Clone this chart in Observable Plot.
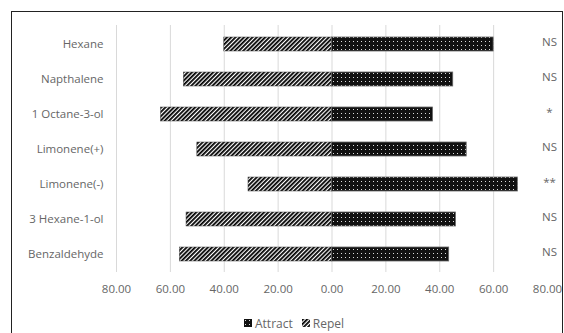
<!DOCTYPE html>
<html>
<head>
<meta charset="utf-8">
<script src="https://cdn.jsdelivr.net/npm/d3@7"></script>
<script src="https://cdn.jsdelivr.net/npm/@observablehq/plot@0.6"></script>
<style>
  html, body { margin: 0; padding: 0; background: #fff; overflow: hidden; }
  #wrap { position: relative; width: 564px; height: 333px; overflow: hidden; }
  #frame { position: absolute; left: 11px; top: 11px; width: 552px; height: 400px; border: 1.5px solid #222; box-sizing: border-box; pointer-events: none; }
  #legend { position: absolute; top: 314px; left: 244px; white-space: nowrap; font: 12px "Open Sans", "Noto Sans", sans-serif; color: #666; }
  #legend span { margin-right: 9px; display: inline-flex; align-items: center; }
  #legend svg { margin-right: 3px; }
</style>
</head>
<body>
<div id="wrap">
  <div id="chart"></div>
  <div id="legend"></div>
  <div id="frame"></div>
</div>
<script>
const categories = ["Hexane", "Napthalene", "1 Octane-3-ol", "Limonene(+)", "Limonene(-)", "3 Hexane-1-ol", "Benzaldehyde"];
const attract = [60, 45, 37.5, 50, 69, 46, 43.5];
const repel = [40, 55, 63.5, 50, 31, 54, 56.5];
const significance = ["NS", "NS", "*", "NS", "**", "NS", "NS"];
const xTicks = [-80, -60, -40, -20, 0, 20, 40, 60, 80];
const seriesNames = ["Attract", "Repel"];

const rows = categories.map((c, i) => ({cat: c, attract: attract[i], repel: repel[i], sig: significance[i]}));

const plot = Plot.plot({
  width: 564,
  height: 333,
  marginLeft: 116,
  marginRight: 17,
  marginTop: 25,
  marginBottom: 61,
  style: {fontFamily: "'Open Sans', 'Noto Sans', sans-serif", fontSize: "11.5px", color: "#666", background: "transparent"},
  x: {domain: [-80, 80], ticks: xTicks, tickFormat: d => Math.abs(d).toFixed(2), tickSize: 0, tickPadding: 12, label: null},
  y: {domain: categories, paddingInner: 0.6, paddingOuter: 0.3, tickSize: 0, tickPadding: 13, label: null},
  marks: [
    Plot.ruleX(xTicks.filter(d => d !== 80), {stroke: "#d9d9d9", strokeWidth: 1}),
    Plot.barX(rows, {y: "cat", x1: d => -d.repel, x2: 0, fill: "url(#pat-repel)", stroke: "#444", strokeWidth: 0.5}),
    Plot.barX(rows, {y: "cat", x1: 0, x2: "attract", fill: "url(#pat-attract)", stroke: "#666", strokeWidth: 0.8}),
    Plot.text(rows, {y: "cat", x: () => 80, text: "sig", fill: "#666", fontSize: 11.5, dx: 2, dy: -2})
  ]
});
document.getElementById("chart").appendChild(plot);

const defsSvg = d3.select("body").append("svg").attr("width", 0).attr("height", 0).style("position", "absolute");
const defs = defsSvg.append("defs");
const pa = defs.append("pattern").attr("id", "pat-attract").attr("patternUnits", "userSpaceOnUse").attr("width", 4).attr("height", 4);
pa.append("rect").attr("width", 4).attr("height", 4).attr("fill", "#111");
pa.append("rect").attr("x", 1).attr("y", 1).attr("width", 1).attr("height", 1).attr("fill", "#dcdcdc");
const pr = defs.append("pattern").attr("id", "pat-repel").attr("patternUnits", "userSpaceOnUse").attr("width", 3).attr("height", 3).attr("patternTransform", "rotate(45)");
pr.append("rect").attr("width", 3).attr("height", 3).attr("fill", "#fff");
pr.append("rect").attr("x", 0).attr("y", 0).attr("width", 1.8).attr("height", 3).attr("fill", "#000");

const legend = d3.select("#legend");
seriesNames.forEach((name, i) => {
  const s = legend.append("span");
  const sv = s.append("svg").attr("width", 8).attr("height", 8);
  sv.append("rect").attr("width", 8).attr("height", 8).attr("fill", i === 0 ? "url(#pat-attract)" : "url(#pat-repel)");
  s.append("text").text(name);
});
</script>
</body>
</html>
